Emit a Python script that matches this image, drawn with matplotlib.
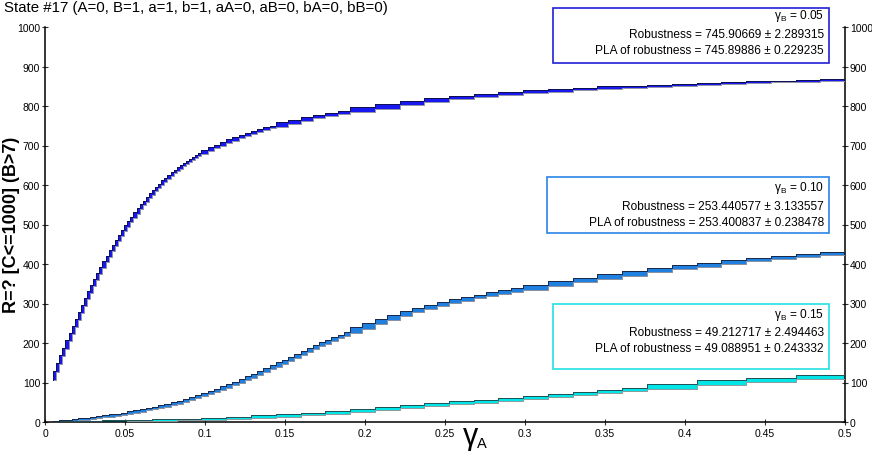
import numpy as np
import matplotlib
matplotlib.use("Agg")
import matplotlib.pyplot as plt
from matplotlib.patches import Rectangle

plt.rcParams['font.family'] = ['Liberation Sans', 'DejaVu Sans']
plt.rcParams['mathtext.fontset'] = 'custom'
plt.rcParams['mathtext.rm'] = 'Liberation Sans'

# ---------------- data ----------------
title = "State #17 (A=0, B=1, a=1, b=1, aA=0, aB=0, bA=0, bB=0)"
ylabel = "R=? [C<=1000] (B>7)"

# gamma_B = 0.05 : step edges and robustness values at the edges
x_g05 = [0.0050, 0.0069, 0.0089, 0.0108, 0.0127, 0.0147, 0.0166, 0.0185, 0.0205, 0.0224,
         0.0243, 0.0263, 0.0282, 0.0301, 0.0321, 0.0340, 0.0359, 0.0379, 0.0398, 0.0417,
         0.0437, 0.0456, 0.0475, 0.0495, 0.0514, 0.0533, 0.0553, 0.0572, 0.0591, 0.0611,
         0.0630, 0.0650, 0.0669, 0.0688, 0.0707, 0.0727, 0.0746, 0.0765, 0.0785, 0.0804,
         0.0823, 0.0843, 0.0862, 0.0881, 0.0901, 0.0920, 0.0939, 0.0959, 0.0978,
         0.1016, 0.1055, 0.1094, 0.1133, 0.1171, 0.1210, 0.1249, 0.1288, 0.1326, 0.1365,
         0.1404, 0.1442,
         0.1520, 0.1597, 0.1674, 0.1752, 0.1829, 0.1906,
         0.2061, 0.2216, 0.2370, 0.2525, 0.2680, 0.2834, 0.2989, 0.3144,
         0.3298, 0.3453, 0.3608, 0.3763, 0.3917, 0.4072, 0.4227, 0.4381, 0.4536, 0.4691,
         0.4845, 0.5000]
v_g05 = [108, 128, 148, 168, 187, 206, 224, 242, 260, 278,
         295, 312, 329, 345, 361, 376, 391, 406, 420, 434,
         447, 460, 472, 484, 496, 507, 518, 529, 540, 550,
         559, 568, 577, 586, 594, 602, 610, 617, 624, 631,
         637, 643, 649, 655, 660, 665, 670, 675, 679,
         687, 694, 701, 707, 714, 720, 725, 730, 735, 740,
         745, 749,
         757, 764, 770, 776, 781, 786,
         795, 804, 811, 818, 824, 829, 834, 838,
         842, 845, 848, 850, 852, 854, 857, 859, 861, 863,
         865, 866]

# gamma_B = 0.10
x_g10 = [0.0050, 0.0089, 0.0127, 0.0166, 0.0205, 0.0243, 0.0282, 0.0321, 0.0359, 0.0398,
         0.0437, 0.0475, 0.0514, 0.0553, 0.0591, 0.0630, 0.0669, 0.0707, 0.0746, 0.0785,
         0.0823, 0.0862, 0.0901, 0.0939, 0.0978, 0.1016, 0.1055, 0.1094, 0.1133, 0.1171,
         0.1210, 0.1249, 0.1288, 0.1326, 0.1365, 0.1404, 0.1442, 0.1481, 0.1520, 0.1558,
         0.1597, 0.1636, 0.1674, 0.1713, 0.1752, 0.1790, 0.1829, 0.1868, 0.1906,
         0.1984, 0.2061, 0.2138, 0.2216, 0.2293, 0.2370, 0.2448, 0.2525, 0.2602, 0.2680,
         0.2757, 0.2834, 0.2912, 0.2989,
         0.3144, 0.3298, 0.3453, 0.3608, 0.3763, 0.3917, 0.4072, 0.4227, 0.4381, 0.4536,
         0.4691, 0.4845, 0.5000]
v_g10 = [1, 2, 3, 4.5, 6, 7.5, 9, 11, 13, 15,
         17.5, 20, 22.5, 25.1, 27.8, 30.7, 33.8, 37.1, 40.6, 44.3,
         48.2, 52.3, 56.8, 61.6, 66.6, 71.8, 77.2, 82.8, 88.6, 94.6,
         100.8, 107.2, 113.8, 120.6, 127.6, 134.8, 142.0, 149.3, 156.6, 163.9,
         171.2, 178.5, 185.7, 192.8, 199.8, 206.6, 213.3, 219.8, 226.1,
         238, 249.5, 260.5, 270.5, 279.5, 288, 295.5, 302.5, 309, 315,
         321, 326.5, 331.5, 336.5,
         346, 355, 364, 372, 380, 388, 395, 402, 408, 414,
         420, 425, 430]

# gamma_B = 0.15
x_g15 = [0.0050, 0.0205, 0.0359, 0.0514, 0.0669, 0.0823, 0.0978, 0.1133, 0.1288, 0.1442,
         0.1597, 0.1752, 0.1906, 0.2061, 0.2216, 0.2370, 0.2525, 0.2680, 0.2834, 0.2989,
         0.3144, 0.3298, 0.3453, 0.3608, 0.3763, 0.4072, 0.4381, 0.4691, 0.5000]
v_g15 = [0.3, 1, 2, 3, 4, 5.5, 7, 9.5, 12, 15,
         18.5, 22.5, 26.5, 31, 36, 41, 46, 50.5, 55, 60,
         65, 70, 75, 80, 85, 95, 104, 111, 117]

legend_lines = [
    ["0.05", "Robustness = 745.90669 ± 2.289315", "PLA of robustness = 745.89886 ± 0.229235"],
    ["0.10", "Robustness = 253.440577 ± 3.133557", "PLA of robustness = 253.400837 ± 0.238478"],
    ["0.15", "Robustness = 49.212717 ± 2.494463", "PLA of robustness = 49.088951 ± 0.243332"],
]

x_ticks = [0, 0.05, 0.1, 0.15, 0.2, 0.25, 0.3, 0.35, 0.4, 0.45, 0.5]
x_ticklabels = ["0", "0.05", "0.1", "0.15", "0.2", "0.25", "0.3", "0.35", "0.4", "0.45", "0.5"]
y_ticks = [0, 100, 200, 300, 400, 500, 600, 700, 800, 900, 1000]

# ---------------- figure ----------------
W, H = 872, 452
fig = plt.figure(figsize=(W / 100, H / 100), dpi=100)
ax = fig.add_axes([45 / W, 1 - 423 / H, 800 / W, 395 / H])
ax.set_xlim(0, 0.5)
ax.set_ylim(0, 1000)

PAD = 1.5  # small visual thickness of each PLA box


def draw_band(ax, x, v, fill, top_c, bot_c):
    x = np.asarray(x, float)
    v = np.asarray(v, float)
    lo = np.append(v[:-1], v[-2]) - PAD
    hi = np.append(v[1:], v[-1]) + PAD
    ax.fill_between(x, lo, hi, step='post', facecolor=fill, edgecolor='none', lw=0, zorder=2)
    ax.step(x, lo, where='post', color=bot_c, lw=0.7, zorder=3)
    ax.step(x, hi, where='post', color=top_c, lw=0.7, zorder=4)
    ax.plot([x[0], x[0]], [lo[0], hi[0]], color=top_c, lw=0.7, zorder=4)
    ax.plot([x[-1], x[-1]], [lo[-2], hi[-2]], color=top_c, lw=0.7, zorder=4)


draw_band(ax, x_g15, v_g15, '#00e6e6', '#1f4f55', '#8a9a9c')
draw_band(ax, x_g10, v_g10, '#1f80e0', '#1a2848', '#8890a0')
draw_band(ax, x_g05, v_g05, '#1818f0', '#101050', '#9090a8')

ax.spines['top'].set_visible(False)
for s in ['left', 'right', 'bottom']:
    ax.spines[s].set_linewidth(1.1)
    ax.spines[s].set_color('black')

ax.set_xticks(x_ticks)
ax.set_xticklabels(x_ticklabels)
ax.set_yticks(y_ticks)
ax.set_yticklabels([str(t) for t in y_ticks])
ax.tick_params(axis='both', direction='inout', length=4, width=0.8, labelsize=7.5,
               colors='#333333', labelcolor='black')
ax.tick_params(axis='x', pad=2)
ax.tick_params(axis='y', pad=1.5, left=True, right=True, labelleft=True, labelright=True)

fig.text(4 / W, 1 - 8 / H, title, ha='left', va='center', fontsize=10.8)
fig.text(12 / W, 1 - 225 / H, ylabel, ha='center', va='center', rotation=90,
         fontsize=13, fontweight='bold')
fig.text(471 / W, 1 - 437 / H, "γ", ha='center', va='center', fontsize=22)
fig.text(477 / W, 1 - 444 / H, "A", ha='left', va='center', fontsize=10.5)

# legend boxes (pixel layout)
boxes = [
    dict(x0=553, x1=829, y0=9, y1=64, ys=[16, 35, 51], ec='#2020d8'),
    dict(x0=547, x1=829, y0=178, y1=234, ys=[188, 207, 223], ec='#2a84e4'),
    dict(x0=553, x1=829, y0=305, y1=370, ys=[315, 333, 349], ec='#22e0e0'),
]
for b, lines in zip(boxes, legend_lines):
    r = Rectangle((b['x0'] / W, 1 - b['y1'] / H), (b['x1'] - b['x0']) / W,
                  (b['y1'] - b['y0']) / H, transform=fig.transFigure,
                  facecolor='white', edgecolor=b['ec'], lw=1.2, zorder=10)
    fig.add_artist(r)
    xr = 824 / W
    fig.text(xr, 1 - b['ys'][0] / H, r'$\mathregular{γ_B}$ = ' + lines[0], ha='right', va='center',
             fontsize=8.6, zorder=11)
    fig.text(xr, 1 - b['ys'][1] / H, lines[1], ha='right', va='center', fontsize=8.6, zorder=11)
    fig.text(xr, 1 - b['ys'][2] / H, lines[2], ha='right', va='center', fontsize=8.6, zorder=11)

fig.savefig("out.png", dpi=100)
